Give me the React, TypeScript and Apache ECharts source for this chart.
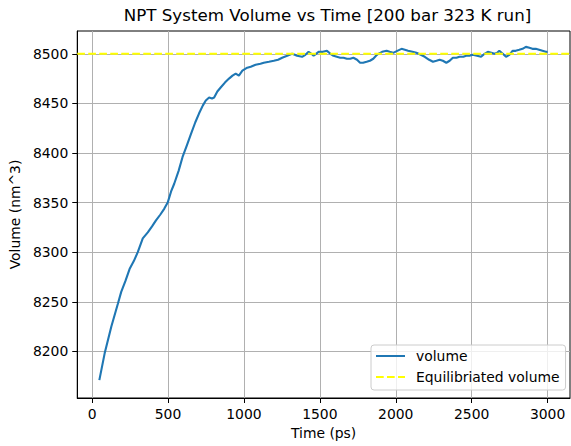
import React, { useEffect, useRef } from "react";
import * as echarts from "echarts";

const TITLE = "NPT System Volume vs Time [200 bar 323 K run]";
const X_NAME = "Time (ps)";
const Y_NAME = "Volume (nm^3)";
const SERIES_NAMES = ["volume", "Equilibriated volume"];

const X_TICKS = [0, 500, 1000, 1500, 2000, 2500, 3000];
const Y_TICKS = [8200, 8250, 8300, 8350, 8400, 8450, 8500];
const X_MIN = -97.5;
const X_MAX = 3147.5;
const Y_MIN = 8153;
const Y_MAX = 8523;

const EQUIL_VOLUME = 8500;

const TIME = [
  48, 83, 127, 170, 192, 220, 247, 275, 301, 334, 367, 395, 421, 450, 476, 498,
  520, 541, 570, 596, 625, 651, 680, 705, 730, 749, 771, 790, 804, 825, 847, 875,
  902, 925, 946, 967, 990, 1022, 1045, 1077, 1109, 1131, 1165, 1197, 1225, 1252,
  1285, 1317, 1335, 1350, 1383, 1405, 1426, 1445, 1459, 1475, 1492, 1520, 1547,
  1570, 1590, 1612, 1634, 1656, 1678, 1700, 1721, 1745, 1765, 1785, 1808, 1830,
  1852, 1870, 1885, 1910, 1940, 1960, 1983, 2010, 2038, 2060, 2081, 2110, 2136,
  2165, 2191, 2220, 2245, 2268, 2289, 2310, 2333, 2355, 2376, 2400, 2420, 2445,
  2464, 2485, 2507, 2535, 2562, 2585, 2606, 2630, 2650, 2668, 2682, 2705, 2726,
  2748, 2769, 2790, 2813, 2835, 2857, 2880, 2900, 2922, 2944, 2966, 2988, 3000,
];

const VOLUME = [
  8171, 8198, 8225, 8248, 8260, 8271, 8283, 8291, 8300, 8314, 8320, 8326, 8332,
  8338, 8344, 8350, 8361, 8369, 8382, 8396, 8408, 8419, 8431, 8440, 8448, 8453,
  8456, 8455, 8456, 8462, 8466, 8471, 8475, 8478, 8480, 8478, 8483, 8486, 8487,
  8489, 8490, 8491, 8492, 8493, 8494, 8496, 8498, 8500, 8499, 8498, 8497, 8499,
  8502, 8500, 8498, 8500, 8502, 8502, 8503, 8500, 8498, 8497, 8496, 8496, 8495,
  8495, 8496, 8494, 8491, 8491, 8492, 8493, 8495, 8498, 8500, 8502, 8503, 8502,
  8501, 8503, 8505, 8504, 8503, 8502, 8501, 8499, 8497, 8494, 8492, 8493, 8494,
  8493, 8491, 8493, 8496, 8496, 8497, 8497, 8498, 8498, 8499, 8498, 8497, 8500,
  8502, 8501, 8500, 8501, 8503, 8500, 8497, 8499, 8503, 8503, 8504, 8505, 8507,
  8506, 8505, 8505, 8504, 8503, 8502, 8502,
];

const FONT = "DejaVu Sans";

export default function App() {
  const ref = useRef<HTMLDivElement>(null);

  useEffect(() => {
    if (!ref.current) return;
    const chart = echarts.init(ref.current, null, { renderer: "svg" });
    const volumeData = TIME.map((t, i) => [t, VOLUME[i]]);
    const equilData = [
      [X_MIN, EQUIL_VOLUME],
      [X_MAX, EQUIL_VOLUME],
    ];
    const axisCommon = {
      axisLine: { show: true, onZero: false, lineStyle: { color: "#000", width: 1 } },
      axisTick: { show: true, inside: false, length: 5, lineStyle: { color: "#000", width: 1 } },
      splitLine: { show: true, lineStyle: { color: "#b0b0b0", width: 1 } },
    };
    const labelCommon = {
      margin: 9,
      fontFamily: FONT,
      fontSize: 13.9,
      color: "#000",
      formatter: (v: number) => String(v),
    };
    chart.setOption({
      animation: false,
      backgroundColor: "#fff",
      title: {
        text: TITLE,
        left: 322.5,
        textAlign: "center",
        top: 1,
        textStyle: { fontFamily: FONT, fontSize: 16.7, fontWeight: "normal", color: "#000" },
      },
      grid: {
        left: 75,
        top: 31,
        width: 495,
        height: 367,
        show: true,
        borderColor: "#000",
        borderWidth: 1,
        backgroundColor: "transparent",
      },
      legend: {
        orient: "vertical",
        left: 371,
        top: 345,
        data: SERIES_NAMES,
        backgroundColor: "rgba(255,255,255,0.8)",
        borderColor: "#cccccc",
        borderWidth: 1,
        borderRadius: 3,
        padding: [4, 6, 6, 4],
        itemWidth: 29,
        itemHeight: 14,
        itemGap: 7,
        itemStyle: { opacity: 0 },
        textStyle: { fontFamily: FONT, fontSize: 13.9, color: "#000", padding: [0, 0, 0, 6] },
      },
      xAxis: {
        type: "value",
        min: X_MIN,
        max: X_MAX,
        splitNumber: 5,
        name: X_NAME,
        nameLocation: "middle",
        nameGap: 28,
        nameTextStyle: { fontFamily: FONT, fontSize: 13.9, color: "#000" },
        ...axisCommon,
        axisTick: { ...axisCommon.axisTick, customValues: X_TICKS },
        axisLabel: { ...labelCommon, customValues: X_TICKS },
      },
      yAxis: {
        type: "value",
        min: Y_MIN,
        max: Y_MAX,
        splitNumber: 8,
        name: Y_NAME,
        nameLocation: "middle",
        nameGap: 48,
        nameRotate: 90,
        nameTextStyle: { fontFamily: FONT, fontSize: 13.9, color: "#000" },
        ...axisCommon,
        axisTick: { ...axisCommon.axisTick, customValues: Y_TICKS },
        axisLabel: { ...labelCommon, customValues: Y_TICKS },
      },
      series: [
        {
          name: SERIES_NAMES[0],
          type: "line",
          data: volumeData,
          showSymbol: false,
          symbol: "none",
          lineStyle: { color: "#1f77b4", width: 2.1 },
          itemStyle: { color: "#1f77b4" },
          z: 2,
        },
        {
          name: SERIES_NAMES[1],
          type: "line",
          data: equilData,
          showSymbol: false,
          symbol: "none",
          lineStyle: { color: "#ffff00", width: 2.1, type: [7.7, 3.3] },
          itemStyle: { color: "#ffff00" },
          z: 3,
        },
      ],
    });
    return () => chart.dispose();
  }, []);

  return (
    <div
      ref={ref}
      style={{ position: "fixed", left: 0, top: 0, width: 571, height: 446 }}
    />
  );
}
